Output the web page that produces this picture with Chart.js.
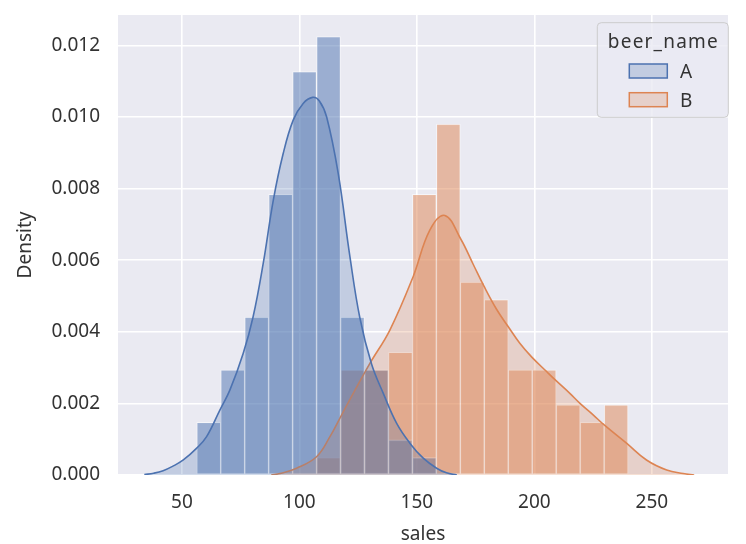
<!DOCTYPE html>
<html>
<head>
<meta charset="utf-8">
<script src="https://cdn.jsdelivr.net/npm/chart.js@4.4.0/dist/chart.umd.min.js"></script>
<style>
html,body{margin:0;padding:0;background:#ffffff;}
#wrap{width:746px;height:544px;}
</style>
</head>
<body>
<div id="wrap"><canvas id="c" width="746" height="544"></canvas></div>
<script>
// ---- data ----
const hueNames = ['A', 'B'];
const legendTitle = 'beer_name';
const xLabel = 'sales';
const yLabel = 'Density';
const xTicks = [50, 100, 150, 200, 250];
const yTicks = [0, 0.002, 0.004, 0.006, 0.008, 0.010, 0.012];

// histogram bin edges (shared by both hues)
const binEdges = [56.3, 66.5, 76.7, 86.9, 97.1, 107.3, 117.5, 127.7, 137.9, 148.1,
                  158.3, 168.5, 178.7, 188.9, 199.1, 209.3, 219.5, 229.7, 239.9];
// histogram densities per bin
const histA = [0.00147, 0.00294, 0.00441, 0.00784, 0.01127, 0.01225, 0.00441, 0.00294, 0.00098, 0.00049,
               0, 0, 0, 0, 0, 0, 0, 0];
const histB = [0, 0, 0, 0, 0, 0.00049, 0.00294, 0.00294, 0.00343, 0.00784,
               0.00980, 0.00539, 0.00490, 0.00294, 0.00294, 0.00196, 0.00147, 0.00196];

// KDE curves
const kdeAx = [34, 38, 42, 46, 50.6, 56.3, 60.5, 66.2, 70.4, 76.1, 80.3, 84.6, 88.9, 93.1, 97.4, 101.6,
               105.6, 108.5, 111.6, 116.5, 121.5, 125.7, 130.7, 135.7, 141.4, 147, 152.7, 158.4, 162.6, 167];
const kdeAy = [0.00001, 0.00005, 0.00012, 0.00024, 0.00042, 0.00075, 0.00107, 0.00182, 0.00237, 0.00340,
               0.00442, 0.00591, 0.00768, 0.00898, 0.00992, 0.01038, 0.01055, 0.01045, 0.01000, 0.00843,
               0.00610, 0.00440, 0.00310, 0.00228, 0.00144, 0.00089, 0.00047, 0.00019, 0.00006, 0];
const kdeBx = [88, 91.7, 98.8, 107.3, 113, 117.2, 122.9, 130, 138.5, 148.4, 155.5, 161.9,
               168.6, 174, 178.5, 183.9, 188.9, 193.8, 198.8, 205.2, 209, 215.1, 219.4, 225, 229.7,
               239.2, 247.7, 256.3, 263.3, 268];
const kdeBy = [0, 0.00004, 0.00019, 0.00051, 0.00107, 0.00158, 0.00228, 0.00312, 0.00405,
               0.00554, 0.00684, 0.00725, 0.00660, 0.00588, 0.00528, 0.00463, 0.00414,
               0.00368, 0.00330, 0.00289, 0.00265, 0.00228, 0.00200, 0.00168, 0.00140, 0.00089, 0.00042,
               0.00014, 0.00004, 0];

const xMin = 22.8, xMax = 282.4;
const yMax = 0.01285;

// ---- styles ----
const rgbA = '76,114,176';
const rgbB = '221,132,82';
const FONT = "'Noto Sans', 'DejaVu Sans', sans-serif";
const TEXT = '#333333';

function histPoints(vals) {
  const pts = [];
  for (let i = 0; i < vals.length; i++) {
    if (vals[i] > 0) pts.push({x: (binEdges[i] + binEdges[i + 1]) / 2, y: vals[i]});
  }
  return pts;
}
function kdePoints(xs, ys) { return xs.map((x, i) => ({x: x, y: ys[i]})); }

const plotBg = {
  id: 'plotBg',
  beforeDraw(chart) {
    const {ctx, chartArea: a} = chart;
    ctx.save();
    ctx.fillStyle = '#eaeaf2';
    ctx.fillRect(a.left, a.top, a.right - a.left, a.bottom - a.top);
    ctx.restore();
  }
};

function rrect(ctx, x, y, w, h, r) {
  ctx.beginPath();
  ctx.moveTo(x + r, y);
  ctx.lineTo(x + w - r, y);
  ctx.arcTo(x + w, y, x + w, y + r, r);
  ctx.lineTo(x + w, y + h - r);
  ctx.arcTo(x + w, y + h, x + w - r, y + h, r);
  ctx.lineTo(x + r, y + h);
  ctx.arcTo(x, y + h, x, y + h - r, r);
  ctx.lineTo(x, y + r);
  ctx.arcTo(x, y, x + r, y, r);
  ctx.closePath();
}

const seaLegend = {
  id: 'seaLegend',
  afterDraw(chart) {
    const {ctx, chartArea: a} = chart;
    const w = 131, h = 94.6;
    const x0 = a.right - w + 0.3, y0 = a.top + 7.7;
    ctx.save();
    rrect(ctx, x0, y0, w, h, 4);
    ctx.fillStyle = 'rgba(234,234,242,0.8)';
    ctx.fill();
    ctx.lineWidth = 1;
    ctx.strokeStyle = '#cccccc';
    ctx.stroke();
    ctx.fillStyle = TEXT;
    ctx.font = '19px ' + FONT;
    ctx.textBaseline = 'alphabetic';
    ctx.textAlign = 'center';
    try { ctx.letterSpacing = '1.2px'; } catch (e) {}
    ctx.fillText(legendTitle, x0 + w / 2 + 0.6, y0 + 25);
    try { ctx.letterSpacing = '0px'; } catch (e) {}
    const kdeSets = chart.data.datasets.filter(d => d.type === 'line');
    kdeSets.forEach((ds, i) => {
      const py = y0 + 41.3 + i * 28.7;
      ctx.fillStyle = 'rgba(234,234,242,1)';
      ctx.fillRect(x0 + 32, py, 38, 14);
      ctx.fillStyle = ds.backgroundColor;
      ctx.fillRect(x0 + 32, py, 38, 14);
      ctx.lineWidth = 1.5;
      ctx.strokeStyle = ds.borderColor;
      ctx.strokeRect(x0 + 32, py, 38, 14);
      ctx.fillStyle = TEXT;
      ctx.textAlign = 'left';
      ctx.fillText(ds.label, x0 + 82.7, py + 14.3);
    });
    ctx.restore();
  }
};

const barCommon = {
  type: 'bar',
  grouped: false,
  barPercentage: 1,
  categoryPercentage: 1,
  borderWidth: 1,
  borderSkipped: false,
  borderColor: 'rgba(255,255,255,0.5)',
  order: 2
};
const lineCommon = {
  type: 'line',
  pointRadius: 0,
  borderWidth: 1.6,
  tension: 0.4,
  fill: 'origin',
  order: 1
};

new Chart(document.getElementById('c'), {
  data: {
    datasets: [
      Object.assign({}, barCommon, {label: hueNames[0] + ' hist', data: histPoints(histA),
        backgroundColor: 'rgba(' + rgbA + ',0.5)'}),
      Object.assign({}, barCommon, {label: hueNames[1] + ' hist', data: histPoints(histB),
        backgroundColor: 'rgba(' + rgbB + ',0.5)'}),
      Object.assign({}, lineCommon, {label: hueNames[0], data: kdePoints(kdeAx, kdeAy),
        borderColor: 'rgb(' + rgbA + ')', backgroundColor: 'rgba(' + rgbA + ',0.25)'}),
      Object.assign({}, lineCommon, {label: hueNames[1], data: kdePoints(kdeBx, kdeBy),
        borderColor: 'rgb(' + rgbB + ')', backgroundColor: 'rgba(' + rgbB + ',0.25)'})
    ]
  },
  options: {
    responsive: false,
    animation: false,
    layout: {padding: {top: 15, right: 18, left: 0, bottom: 0}},
    plugins: {legend: {display: false}, tooltip: {enabled: false}},
    scales: {
      x: {
        type: 'linear',
        offset: false,
        min: xMin, max: xMax,
        afterBuildTicks: s => { s.ticks = xTicks.map(v => ({value: v})); },
        afterFit: s => { s.height = 69; s.paddingLeft = 0; s.paddingRight = 0; },
        grid: {color: '#ffffff', lineWidth: 1.6, drawTicks: false, offset: false},
        border: {display: false},
        ticks: {padding: 16, color: TEXT, font: {family: FONT, size: 19}, maxRotation: 0,
                callback: v => String(v)},
        title: {display: true, text: xLabel, color: TEXT, padding: 0,
                font: {family: FONT, size: 19, lineHeight: 1}}
      },
      y: {
        type: 'linear',
        offset: false,
        min: 0, max: yMax,
        afterBuildTicks: s => { s.ticks = yTicks.map(v => ({value: v})); },
        afterFit: s => { s.width = 118; s.paddingTop = 0; s.paddingBottom = 0; },
        grid: {color: '#ffffff', lineWidth: 1.6, drawTicks: false},
        border: {display: false},
        ticks: {padding: 18, color: TEXT, font: {family: FONT, size: 19},
                callback: v => Number(v).toFixed(3)},
        title: {display: true, text: yLabel, color: TEXT, padding: {top: 16.5, bottom: 0},
                font: {family: FONT, size: 19, lineHeight: 1}}
      }
    }
  },
  plugins: [plotBg, seaLegend]
});
</script>
</body>
</html>
